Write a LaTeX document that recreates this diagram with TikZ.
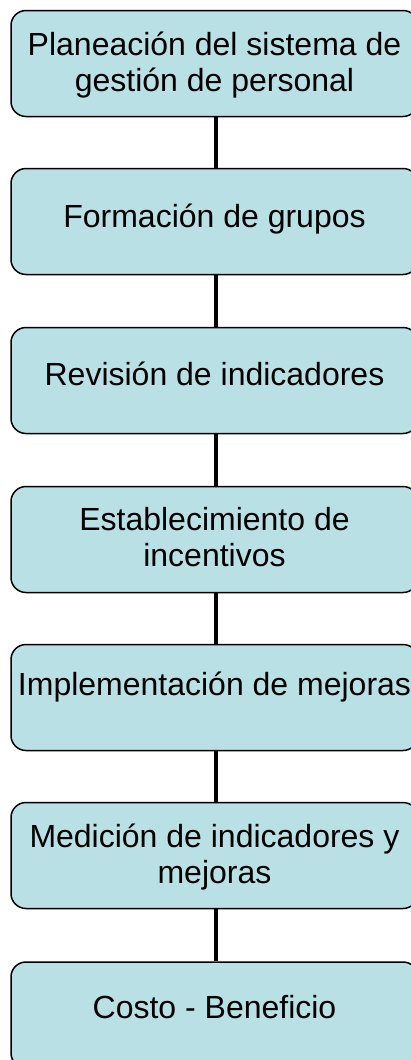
\documentclass[tikz,border=0pt]{standalone}
\usepackage{fontspec}
\setmainfont{Liberation Sans}
\definecolor{boxfill}{RGB}{185,224,228}
\begin{document}
\begin{tikzpicture}[x=1pt,y=-1pt,
  stagebox/.style={draw=black, line width=1.5pt, fill=boxfill, rounded corners=15pt,
    minimum width=407pt, minimum height=106pt, inner sep=0pt},
  stagetext/.style={font=\fontsize{32}{36}\selectfont, align=center, inner sep=0pt, anchor=base},
  link/.style={line width=4.5pt, black}]
\useasboundingbox (0,0) rectangle (411,1060);
\fill[white] (0,0) rectangle (411,1060);
\node[stagebox] (b1) at (214.5,63.5) {};
\node[stagebox] (b2) at (214.5,221.5) {};
\node[stagebox] (b3) at (214.5,380.5) {};
\node[stagebox] (b4) at (214.5,539.5) {};
\node[stagebox] (b5) at (214.5,697.5) {};
\node[stagebox] (b6) at (214.5,855.5) {};
\node[stagebox] (b7) at (214.5,1015) {};
\node[stagetext] (t1) at (214.5,91) {Planeación del sistema de\\gestión de personal};
\node[stagetext] (t2) at (214.5,227) {Formación de grupos};
\node[stagetext] (t3) at (214.5,385) {Revisión de indicadores};
\node[stagetext] (t4) at (214.5,566) {Establecimiento de\\incentivos};
\node[stagetext] (t5) at (214.5,695) {Implementación de mejoras};
\node[stagetext] (t6) at (214.5,883) {Medición de indicadores y\\mejoras};
\node[stagetext] (t7) at (214.5,1018) {Costo - Beneficio};
\foreach \a/\b in {b1/b2,b2/b3,b3/b4,b4/b5,b5/b6,b6/b7}
  \draw[link] ([xshift=1.5pt]\a.south) -- ([xshift=1.5pt]\b.north);
\end{tikzpicture}
\end{document}
